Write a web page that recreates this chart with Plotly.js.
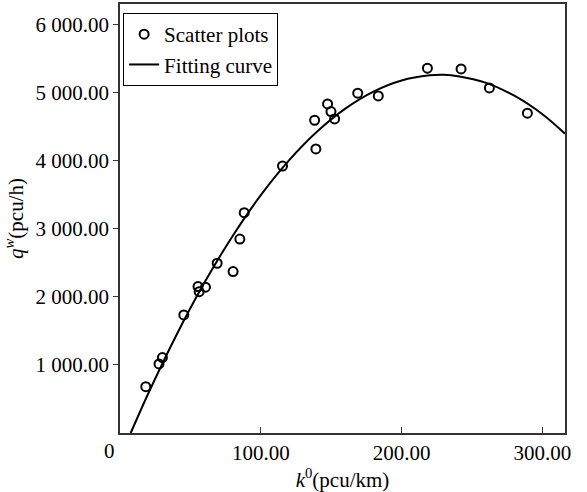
<!DOCTYPE html>
<html>
<head>
<meta charset="utf-8">
<script src="https://cdn.plot.ly/plotly-3.0.1.min.js"></script>
<style>html,body{margin:0;padding:0;background:#fff;}</style>
</head>
<body>
<div id="chart" style="width:587px;height:492px"></div>
<script>
// Scatter observations (k0 in pcu/km, qw in pcu/h)
const scatterK = [18.3, 27.7, 30.1, 45.3, 55.4, 56.2, 60.7, 69.0, 80.3, 85.1, 88.2, 115.4, 138.2, 139.1, 147.4, 149.8, 152.4, 168.8, 183.4, 218.3, 242.2, 262.3, 289.3];
const scatterQ = [681, 1015, 1107, 1734, 2150, 2076, 2141, 2493, 2370, 2848, 3236, 3921, 4593, 4172, 4833, 4720, 4612, 4990, 4950, 5357, 5347, 5067, 4696];

// Fitting curve
const fitK = [7.6, 20, 40, 60, 80, 100, 120, 140, 160, 180, 200, 220, 230, 240, 260, 280, 300, 316];
const fitQ = [0, 577, 1436, 2209, 2894, 3493, 4004, 4428, 4764, 5014, 5177, 5252, 5260, 5240, 5141, 4955, 4682, 4395];

// Tick labels
const yTickVals = [1000, 2000, 3000, 4000, 5000, 6000];
const yTickText = ["1 000.00", "2 000.00", "3 000.00", "4 000.00", "5 000.00", "6 000.00"];
const xTickVals = [100, 200, 300];
const xTickText = ["100.00", "200.00", "300.00"];

Plotly.newPlot("chart", [
  {
    x: scatterK, y: scatterQ, type: "scatter", mode: "markers", name: "Scatter plots",
    marker: {symbol: "circle-open", size: 9, color: "#000", line: {width: 2, color: "#000"}}
  },
  {
    x: fitK, y: fitQ, type: "scatter", mode: "lines", name: "Fitting curve",
    line: {color: "#000", width: 2, shape: "spline"}
  }
], {
  width: 587, height: 492,
  margin: {l: 120, r: 22, t: 4, b: 59},
  paper_bgcolor: "#fff", plot_bgcolor: "#fff",
  showlegend: true,
  legend: {
    x: 0.007, y: 0.979, xanchor: "left", yanchor: "top",
    bordercolor: "#000", borderwidth: 1, bgcolor: "#fff",
    font: {family: "Times New Roman", size: 21, color: "#000"}, tracegroupgap: 0
  },
  xaxis: {
    range: [0, 316], showgrid: false, zeroline: false,
    showline: true, linecolor: "#333", linewidth: 1.5, mirror: true,
    ticks: "inside", ticklen: 6, tickcolor: "#333", tickwidth: 1,
    tickvals: xTickVals, ticktext: xTickText,
    tickfont: {family: "Times New Roman", size: 21, color: "#000"},
    title: {text: "<i>k</i><sup>0</sup>(pcu/km)", font: {family: "Times New Roman", size: 21, color: "#000"}, standoff: 1}
  },
  yaxis: {
    range: [0, 6300], showgrid: false, zeroline: false,
    showline: true, linecolor: "#333", linewidth: 1.5, mirror: true,
    ticks: "outside", ticklen: 5, tickcolor: "#333", tickwidth: 1,
    tickvals: yTickVals, ticktext: yTickText,
    tickfont: {family: "Times New Roman", size: 21, color: "#000"},
    title: {text: "<i>q</i><sup><i>w</i></sup>(pcu/h)", font: {family: "Times New Roman", size: 21, color: "#000"}, standoff: 6}
  },
  annotations: [
    {text: "0", xref: "paper", yref: "paper", x: -0.0225, y: -0.042,
     xanchor: "center", yanchor: "middle", showarrow: false,
     font: {family: "Times New Roman", size: 21, color: "#000"}}
  ]
}, {displayModeBar: false});
</script>
</body>
</html>
